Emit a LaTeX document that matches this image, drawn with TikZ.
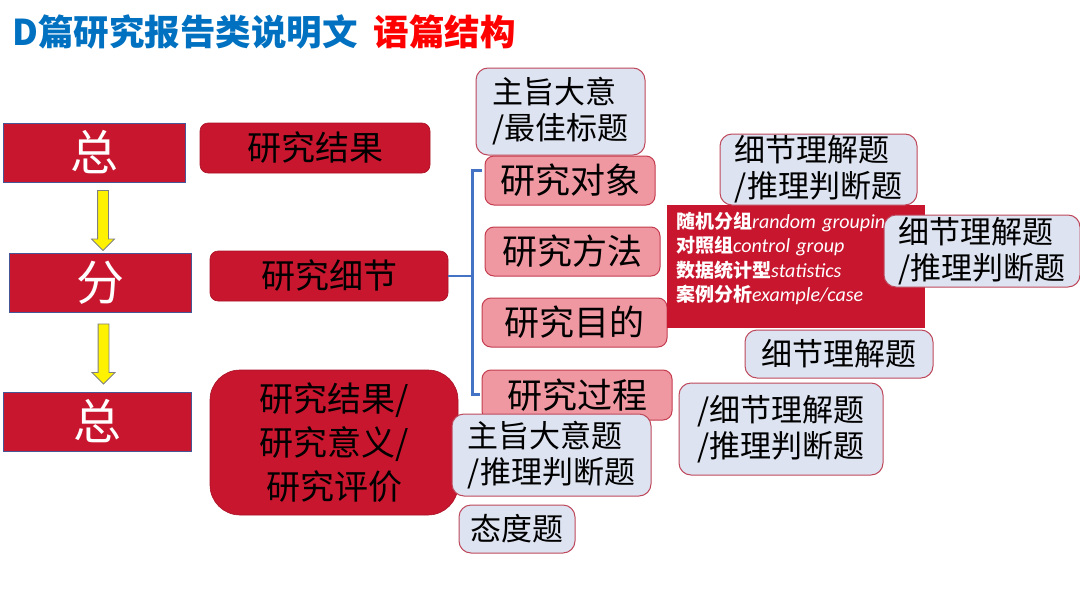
\documentclass[tikz,border=0pt]{standalone}
\usepackage{fontspec}
\setmainfont{Noto Sans CJK SC}
\newfontfamily\latinit{Carlito}
\usetikzlibrary{shapes.arrows}

\definecolor{deepred}{RGB}{200,22,46}
\definecolor{boxblue}{RGB}{70,86,150}
\definecolor{pinkfill}{RGB}{240,152,162}
\definecolor{pinkdraw}{RGB}{196,60,78}
\definecolor{qfill}{RGB}{221,227,240}
\definecolor{qdraw}{RGB}{190,72,92}
\definecolor{brblue}{RGB}{68,114,196}
\definecolor{tblue}{RGB}{0,112,192}
\definecolor{tred}{RGB}{255,0,0}

\tikzstyle{zong} = [rectangle, minimum width=182pt, minimum height=59pt, inner sep=0pt, draw=boxblue, line width=1pt,
fill=deepred, text=white, font=\fontsize{48}{52}\selectfont]
\tikzstyle{part} = [rectangle, rounded corners=8pt, inner sep=0pt, align=center, draw=deepred!85!black, line width=0.6pt,
fill=deepred, font=\fontsize{34}{44}\selectfont]
\tikzstyle{item} = [rectangle, rounded corners=9pt, inner sep=0pt, minimum height=49pt, draw=pinkdraw, line width=1pt,
fill=pinkfill, font=\fontsize{35}{40}\selectfont]
\tikzstyle{question} = [rectangle, rounded corners=12pt, inner sep=0pt, align=left, draw=qdraw, line width=1pt,
fill=qfill, font=\fontsize{31}{36}\selectfont]
\tikzstyle{yarrow} = [single arrow, draw=gray, fill=yellow, line width=0.8pt, minimum height=60pt, minimum width=22pt,
single arrow head extend=6pt, shape border rotate=270, inner sep=5pt]
\newcommand{\latin}[1]{{\latinit\itshape\fontsize{20}{24.5}\selectfont #1}}

\begin{document}
\begin{tikzpicture}[x=1pt, y=-1pt]
    \useasboundingbox (0,0) rectangle (1080,608);
    \node[anchor=west, inner sep=0pt, font=\fontsize{35.5}{38}\selectfont\bfseries](title) at (12,32)
    {{\color{tblue}D篇研究报告类说明文}\hspace{16pt}{\color{tred}语篇结构}};

    % left column
    \node(zongA)[zong] at (94,152.5) {总};
    \node(fen)[zong] at (100,283) {分};
    \node(zongB)[zong, minimum width=188pt] at (97,421.5) {总};
    \path (zongA.south) -- node[yarrow, xshift=6pt](arrA){} (fen.north);
    \path (fen.south) -- node[yarrow, xshift=5pt, yshift=1pt](arrB){} (zongB.north);

    % middle column
    \node(jieguo)[part, minimum width=230pt, minimum height=50pt] at (315,148) {研究结果};
    \node(xijie)[part, minimum width=238pt, minimum height=50pt] at (329,276) {研究细节};
    \node(yiyi)[part, rounded corners=30pt, minimum width=248pt, minimum height=145pt] at (334,442.5)
    {研究结果/\\研究意义/\\研究评价};

    % details
    \node(zhuzhiA)[question, minimum width=169pt, minimum height=87pt] at (560.5,111.5) {主旨大意\\/最佳标题};
    \node(duixiang)[item, minimum width=170pt] at (570,180.5) {研究对象};
    \node(fangfa)[item, minimum width=175pt] at (572.5,251.5) {研究方法};
    \node(mudi)[item, minimum width=185pt] at (574.5,322.5) {研究目的};
    \node(guocheng)[item, minimum width=190pt, minimum height=50pt] at (577,395) {研究过程};

    \coordinate (brk) at ([xshift=24pt]xijie.east);
    \draw[brblue, line width=2.6pt] (xijie.east) -- (brk);
    \draw[brblue, line width=2.6pt] ([xshift=-3pt, yshift=-15pt]duixiang.north west) -| (brk)
    |- ([xshift=-2pt, yshift=-25pt]guocheng.north west);

    \node(methods)[rectangle, anchor=north west, minimum width=252pt, minimum height=123pt, inner xsep=9pt,
    inner ysep=3pt, fill=deepred, text=white, align=left, text width=240pt, font=\fontsize{19}{24.5}\selectfont]
    at (667,205)
    {{\bfseries 随机分组}\latin{random grouping}\\
     {\bfseries 对照组}\latin{control group}\\
     {\bfseries 数据统计型}\latin{statistics}\\
     {\bfseries 案例分析}\latin{example/case}\\[-5pt]\mbox{}};

    \node(xijieA)[question, minimum width=197pt, minimum height=71pt] at (818.5,169.5) {细节理解题\\/推理判断题};
    \node(xijieB)[question, minimum width=196pt, minimum height=72pt] at (982,251) {细节理解题\\/推理判断题};
    \node(xijieC)[question, minimum width=188pt, minimum height=48pt] at (839,354) {细节理解题};
    \node(xijieD)[question, minimum width=204pt, minimum height=92pt] at (781,429) {/细节理解题\\/推理判断题};
    \node(zhuzhiB)[question, minimum width=199pt, minimum height=82pt] at (551.5,455) {主旨大意题\\/推理判断题};
    \node(taidu)[question, minimum width=116pt, minimum height=48pt] at (517,529) {态度题};
\end{tikzpicture}
\end{document}
